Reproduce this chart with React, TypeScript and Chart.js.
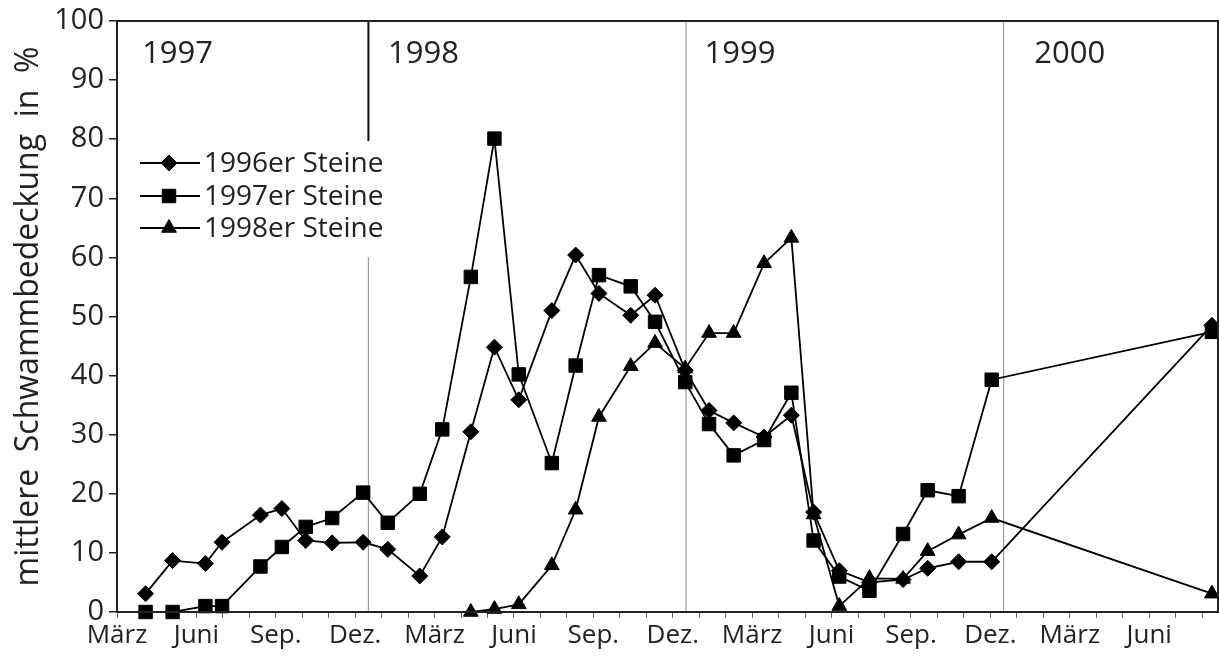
import React, { useEffect, useRef } from 'react';
import { Chart, registerables } from 'chart.js';
import { drawPoint } from 'chart.js/helpers';

Chart.register(...registerables);

// x values: months counted from 1 Jan 1997 (12 = 1 Jan 1998)
const sampleMonths = [
  3.58, 4.6, 5.84, 6.47, 7.92, 8.73, 9.63, 10.63, 11.8, 12.73, 13.94, 14.79,
  15.87, 16.76, 17.68, 18.93, 19.83, 20.71, 21.91, 22.83, 23.97, 24.87, 25.8,
  26.95, 27.98, 28.82, 29.79, 30.93, 32.2, 33.13, 34.3, 35.55, 43.87,
];
const stones1996 = [
  3.1, 8.7, 8.2, 11.8, 16.4, 17.5, 12.1, 11.7, 11.8, 10.6, 6.1, 12.7,
  30.5, 44.8, 35.9, 51.0, 60.4, 53.9, 50.2, 53.6, 40.9, 34.1, 32.0,
  29.6, 33.3, 16.9, 7.0, 5.0, 5.5, 7.4, 8.5, 8.5, 48.5,
];
const stones1997 = [
  0, 0, 1.0, 1.0, 7.7, 11.0, 14.4, 15.9, 20.2, 15.1, 20.0, 30.9,
  56.7, 80.1, 40.2, 25.2, 41.7, 57.0, 55.1, 49.1, 38.9, 31.8, 26.5,
  29.1, 37.1, 12.1, 6.0, 3.6, 13.2, 20.6, 19.6, 39.3, 47.4,
];
const stones1998 = [
  null, null, null, null, null, null, null, null, null, null, null, null,
  0, 0.5, 1.3, 7.9, 17.3, 33.0, 41.6, 45.5, 41.2, 47.2, 47.2,
  59.0, 63.3, 16.5, 1.0, 5.7, 5.6, 10.3, 13.1, 15.9, 3.1,
];
const seriesLabels = ['1996er Steine', '1997er Steine', '1998er Steine'];
const seriesMarkers = ['rectRot', 'rect', 'triangle'];

const xTickValues = [2.5, 5.5, 8.5, 11.5, 14.5, 17.5, 20.5, 23.5, 26.5, 29.5, 32.5, 35.5, 38.5, 41.5];
const xTickLabels = ['März', 'Juni', 'Sep.', 'Dez.', 'März', 'Juni', 'Sep.', 'Dez.', 'März', 'Juni', 'Sep.', 'Dez.', 'März', 'Juni'];
const xAxisMin = 2.5;
const xAxisMax = 44.1;

const yearBoundaries = [12, 24, 36];
const yearLabels = ['1997', '1998', '1999', '2000'];
const yearLabelStarts = [3.45, 12.74, 24.7, 37.16];

const yTitle = 'mittlere  Schwammbedeckung  in  %';
const FONT = "'Open Sans', 'DejaVu Sans', sans-serif";

const toPoints = (vals: (number | null)[]) =>
  sampleMonths
    .map((m, i) => ({ x: m, y: vals[i] }))
    .filter((p) => p.y !== null && p.y !== undefined);

const markerRadius: Record<string, number> = { rectRot: 8, rect: 9.5, triangle: 8.5 };

const decorPlugin = {
  id: 'decor',
  beforeDatasetsDraw(chart: any) {
    const { ctx, chartArea } = chart;
    const xs = chart.scales.x;
    ctx.save();
    ctx.strokeStyle = '#9c9c9c';
    ctx.lineWidth = 1.2;
    yearBoundaries.forEach((b) => {
      const px = xs.getPixelForValue(b);
      ctx.beginPath();
      ctx.moveTo(px, chartArea.top);
      ctx.lineTo(px, chartArea.bottom);
      ctx.stroke();
    });
    ctx.fillStyle = '#222';
    ctx.font = `31px ${FONT}`;
    ctx.textBaseline = 'middle';
    ctx.textAlign = 'left';
    yearLabels.forEach((t, i) => {
      ctx.fillText(t, xs.getPixelForValue(yearLabelStarts[i]), 54);
    });
    ctx.restore();
  },
  afterDatasetsDraw(chart: any) {
    const { ctx, chartArea } = chart;
    const xs = chart.scales.x;
    ctx.save();
    const boxTop = 141;
    ctx.fillStyle = '#fff';
    ctx.fillRect(135, boxTop, 258, 116);
    const px = xs.getPixelForValue(yearBoundaries[0]);
    ctx.strokeStyle = '#111';
    ctx.lineWidth = 2;
    ctx.beginPath();
    ctx.moveTo(px, chartArea.top);
    ctx.lineTo(px, boxTop);
    ctx.stroke();
    const rows = [163, 196, 228];
    chart.data.datasets.forEach((ds: any, i: number) => {
      const y = rows[i];
      ctx.strokeStyle = '#000';
      ctx.lineWidth = 1.8;
      ctx.beginPath();
      ctx.moveTo(140, y);
      ctx.lineTo(200, y);
      ctx.stroke();
      ctx.fillStyle = '#000';
      ctx.lineWidth = 1;
      drawPoint(ctx, { pointStyle: ds.pointStyle, radius: ds.pointRadius, rotation: 0, borderWidth: 1 }, 169, y);
      ctx.fillStyle = '#222';
      ctx.font = `28px ${FONT}`;
      ctx.textBaseline = 'middle';
      ctx.textAlign = 'left';
      ctx.fillText(ds.label, 204, y + 1);
    });
    ctx.restore();
  },
  afterDraw(chart: any) {
    const { ctx, chartArea } = chart;
    ctx.save();
    ctx.strokeStyle = '#222';
    ctx.lineWidth = 2;
    ctx.strokeRect(chartArea.left, chartArea.top, chartArea.right - chartArea.left, chartArea.bottom - chartArea.top);
    ctx.restore();
  },
};

export default function App() {
  const canvasRef = useRef<HTMLCanvasElement | null>(null);

  useEffect(() => {
    document.body.style.margin = '0';
    const canvas = canvasRef.current;
    if (!canvas) return;
    const seriesValues = [stones1996, stones1997, stones1998];
    const chart = new Chart(canvas, {
      type: 'line',
      data: {
        datasets: seriesValues.map((vals, i) => ({
          label: seriesLabels[i],
          data: toPoints(vals),
          borderColor: '#000',
          backgroundColor: '#000',
          borderWidth: 1.8,
          pointStyle: seriesMarkers[i],
          pointRadius: markerRadius[seriesMarkers[i]],
          pointBorderWidth: 1,
          pointBackgroundColor: '#000',
          pointBorderColor: '#000',
          tension: 0,
          fill: false,
        })),
      },
      options: {
        animation: false,
        responsive: false,
        devicePixelRatio: 1,
        clip: false,
        layout: { autoPadding: false, padding: { left: 0, right: 1, top: 21, bottom: 0 } },
        plugins: {
          legend: { display: false },
          tooltip: { enabled: false },
        },
        scales: {
          x: {
            type: 'linear',
            min: xAxisMin,
            max: xAxisMax,
            afterBuildTicks: (scale: any) => {
              const t = [];
              for (let v = xAxisMin; v < xAxisMax; v += 1) t.push({ value: v });
              scale.ticks = t;
            },
            afterFit: (scale: any) => {
              scale.height = 50;
              scale.paddingLeft = 0;
              scale.paddingRight = 0;
            },
            grid: { drawOnChartArea: false, drawTicks: true, tickLength: 6, color: '#666', lineWidth: 1 },
            border: { display: false },
            ticks: {
              autoSkip: false,
              maxRotation: 0,
              minRotation: 0,
              padding: 2,
              color: '#222',
              font: { family: FONT, size: 26 },
              callback: (value: any) => {
                const idx = xTickValues.findIndex((v) => Math.abs(v - Number(value)) < 1e-6);
                return idx >= 0 ? xTickLabels[idx] : '';
              },
            },
          },
          y: {
            min: 0,
            max: 100,
            afterFit: (scale: any) => {
              scale.width = 117;
              scale.paddingTop = 0;
              scale.paddingBottom = 0;
            },
            grid: { drawOnChartArea: false, drawTicks: true, tickLength: 8, color: '#222', lineWidth: 1.5 },
            border: { display: false },
            ticks: {
              stepSize: 10,
              padding: 5,
              color: '#222',
              font: { family: FONT, size: 29 },
            },
            title: {
              display: true,
              text: yTitle,
              color: '#222',
              font: { family: FONT, size: 32 },
              padding: { top: 10, bottom: 0 },
            },
          },
        },
      },
      plugins: [decorPlugin],
    } as any);
    return () => chart.destroy();
  }, []);

  return (
    <div style={{ width: 1219, height: 662, position: 'relative' }}>
      <canvas ref={canvasRef} width={1219} height={662} />
    </div>
  );
}
